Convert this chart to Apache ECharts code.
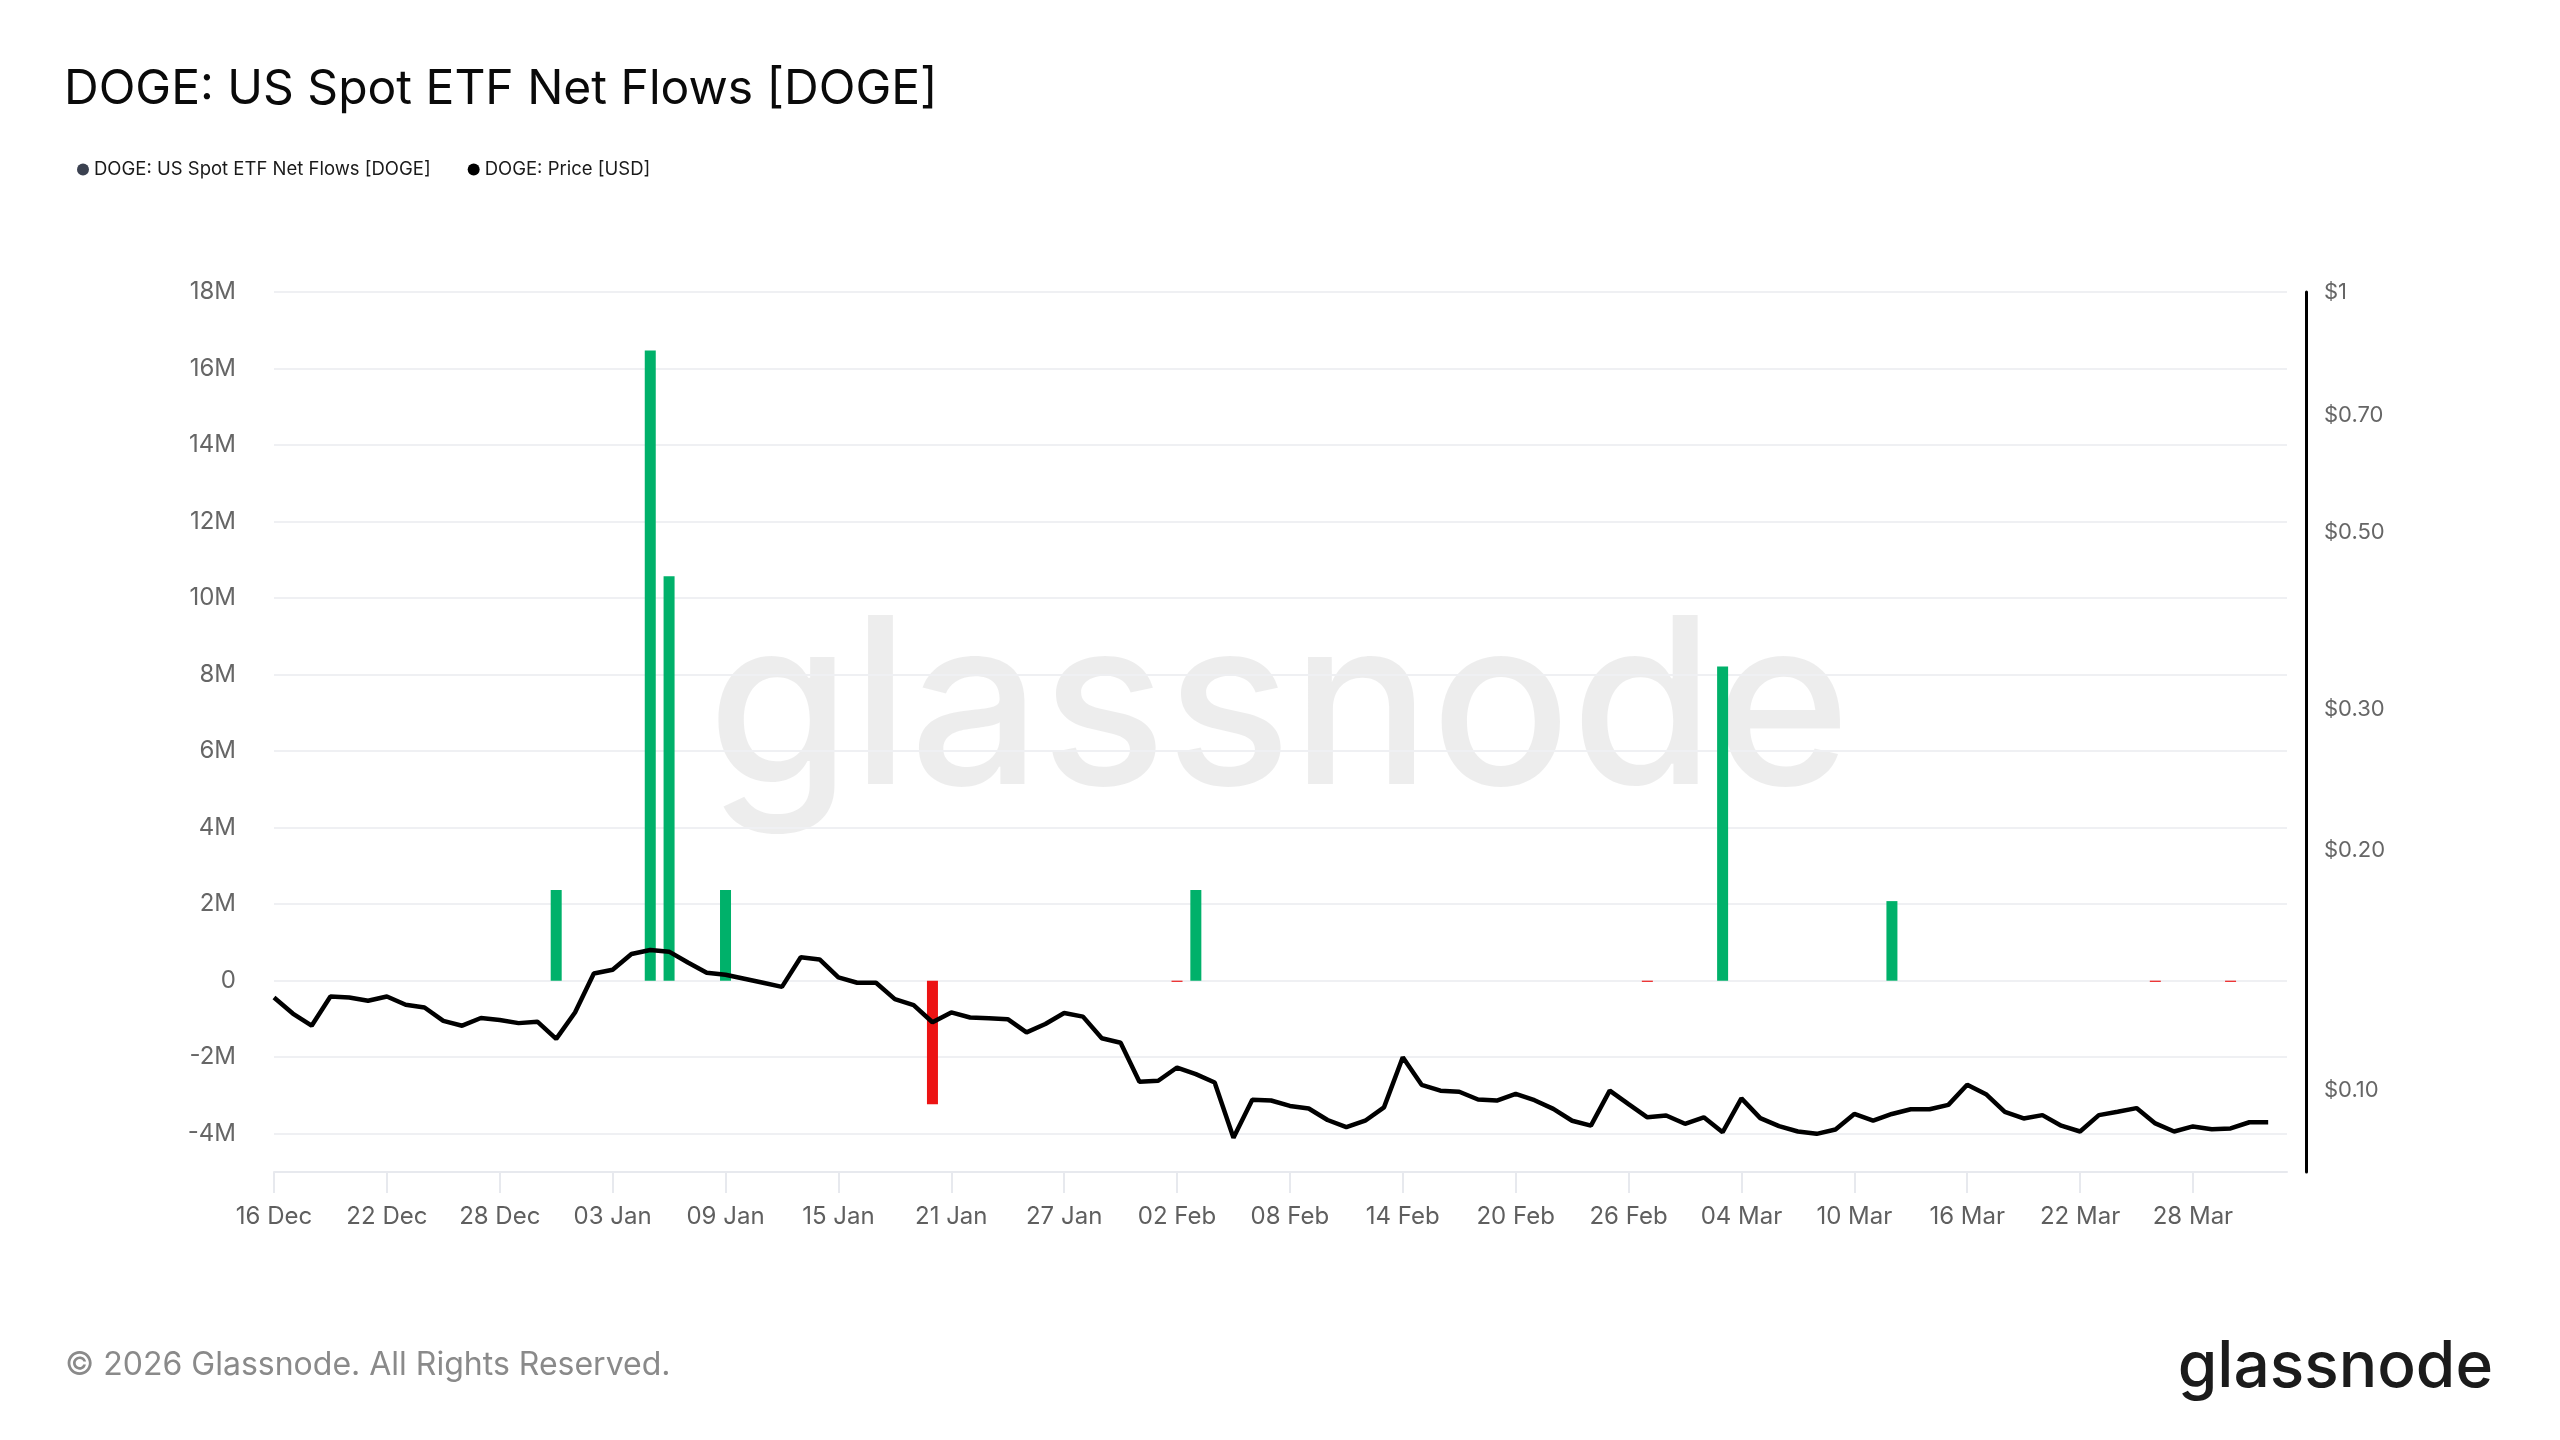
<!DOCTYPE html>
<html>
<head>
<meta charset="utf-8">
<title>DOGE: US Spot ETF Net Flows [DOGE]</title>
<script src="https://cdn.jsdelivr.net/npm/echarts@6.0.0/dist/echarts.min.js"></script>
<style>
  html, body { margin: 0; padding: 0; background: #ffffff; }
  #chart { width: 2560px; height: 1440px; }
</style>
</head>
<body>
<div id="chart"></div>
<script>
// first day of the series, one price point per day after it
const startDate = '2025-12-16';

// DOGE price [USD], daily from 16 Dec to 01 Apr
const prices = [
  0.1308, 0.1249, 0.1206, 0.1312, 0.1308, 0.1296, 0.1312, 0.1281, 0.1271, 0.1223,
  0.1206, 0.1233, 0.1226, 0.1215, 0.1220, 0.1161, 0.1253, 0.1402, 0.1417, 0.1483,
  0.1500, 0.1493, 0.1447, 0.1405, 0.1397, 0.1381, 0.1365, 0.1349, 0.1469, 0.1460,
  0.1386, 0.1365, 0.1365, 0.1302, 0.1280, 0.1218, 0.1253, 0.1235, 0.1232, 0.1229,
  0.1183, 0.1212, 0.1251, 0.1238, 0.1163, 0.1148, 0.1026, 0.1029, 0.1069, 0.1049,
  0.1024, 0.0873, 0.0974, 0.0972, 0.0957, 0.0950, 0.0919, 0.0900, 0.0917, 0.0953,
  0.1101, 0.1017, 0.1000, 0.0997, 0.0975, 0.0972, 0.0991, 0.0973, 0.0949, 0.0917,
  0.0904, 0.1000, 0.0962, 0.0926, 0.0931, 0.0909, 0.0926, 0.0887, 0.0978, 0.0924,
  0.0903, 0.0889, 0.0883, 0.0894, 0.0935, 0.0917, 0.0935, 0.0948, 0.0948, 0.0960,
  0.1017, 0.0990, 0.0941, 0.0923, 0.0932, 0.0904, 0.0889, 0.0932, 0.0941, 0.0951,
  0.0910, 0.0889, 0.0902, 0.0895, 0.0897, 0.0913, 0.0913
];

// ETF net flow days and values [DOGE]
const flowDates = [
  '2025-12-31', '2026-01-05', '2026-01-06', '2026-01-09', '2026-01-20', '2026-02-02',
  '2026-02-03', '2026-02-27', '2026-03-03', '2026-03-12', '2026-03-26', '2026-03-30'
];
const flowValues = [
  2370000, 16470000, 10570000, 2370000, -3230000, -30000,
  2370000, -30000, 8210000, 2080000, -30000, -30000
];

// x axis ticks, every 6 days from the start
const xTickLabels = [
  '16 Dec', '22 Dec', '28 Dec', '03 Jan', '09 Jan', '15 Jan', '21 Jan', '27 Jan', '02 Feb',
  '08 Feb', '14 Feb', '20 Feb', '26 Feb', '04 Mar', '10 Mar', '16 Mar', '22 Mar', '28 Mar'
];
const priceTicks = [1, 0.7, 0.5, 0.3, 0.2, 0.1];

const DAY = 86400000;
const t0 = Date.parse(startDate + 'T00:00:00Z');
const dayIndex = d => Math.round((Date.parse(d + 'T00:00:00Z') - t0) / DAY);

const priceData = prices.map((p, i) => [i, Math.log10(p)]);
const flowData = flowDates.map((d, i) => [dayIndex(d), flowValues[i]]);
const xTickDays = xTickLabels.map((_, i) => i * 6);

const GREEN = '#00b16a';
const RED = '#ec1313';
const FONT = 'Inter, "Noto Sans", sans-serif';

const chart = echarts.init(document.getElementById('chart'), null, { renderer: 'canvas' });

chart.setOption({
  backgroundColor: '#ffffff',
  animation: false,
  title: {
    text: 'DOGE: US Spot ETF Net Flows [DOGE]',
    left: 64,
    top: 66,
    padding: 0,
    textStyle: { fontFamily: FONT, fontSize: 48, fontWeight: 400, color: '#0a0a0a' }
  },
  legend: {
    left: 77,
    top: 160,
    padding: 0,
    itemWidth: 12,
    itemHeight: 12,
    itemGap: 37,
    icon: 'circle',
    textStyle: { fontFamily: FONT, fontSize: 18.5, color: '#1a1a1a' },
    data: [
      { name: 'DOGE: US Spot ETF Net Flows [DOGE]', itemStyle: { color: '#3b4150' } },
      { name: 'DOGE: Price [USD]', itemStyle: { color: '#000000' } }
    ]
  },
  graphic: [
    {
      type: 'text', x: 1279, y: 714, z: -10, silent: true,
      style: {
        text: 'glassnode', fontFamily: FONT, fontSize: 232, fontWeight: 500,
        fill: 'rgba(0,0,0,0.07)', align: 'center', verticalAlign: 'middle'
      }
    },
    {
      type: 'text', x: 65, y: 1365,
      style: {
        text: '\u00a9 2026 Glassnode. All Rights Reserved.', fontFamily: FONT, fontSize: 32,
        fill: '#8a8a8a', align: 'left', verticalAlign: 'middle'
      }
    },
    {
      type: 'text', x: 2493, y: 1368,
      style: {
        text: 'glassnode', fontFamily: FONT, fontSize: 64, fontWeight: 500,
        fill: '#1b1b1b', align: 'right', verticalAlign: 'middle'
      }
    }
  ],
  grid: { left: 274, right: 273, top: 292, bottom: 268, containLabel: false },
  xAxis: {
    type: 'value',
    min: 0,
    max: 107,
    axisLine: { show: true, onZero: false, lineStyle: { color: '#e7e9ee', width: 2 } },
    axisTick: { show: true, length: 21, customValues: xTickDays, lineStyle: { color: '#e7e9ee', width: 2 } },
    axisLabel: {
      customValues: xTickDays,
      margin: 33,
      fontFamily: FONT, fontSize: 24, color: '#5f5f5f',
      formatter: v => xTickLabels[Math.round(v / 6)] || ''
    },
    splitLine: { show: false }
  },
  yAxis: [
    {
      type: 'value',
      min: -5000000,
      max: 18000000,
      splitNumber: 11,
      axisLine: { show: false },
      axisTick: { show: false },
      axisLabel: {
        showMinLabel: false,
        margin: 38,
        fontFamily: FONT, fontSize: 24, color: '#666666',
        formatter: v => (v === 0 ? '0' : (v / 1e6) + 'M')
      },
      splitLine: { show: true, lineStyle: { color: '#eff0f3', width: 2 } }
    },
    {
      type: 'value',
      position: 'right',
      offset: 19,
      min: Math.log10(0.0791),
      max: 0,
      axisLine: { show: true, onZero: false, lineStyle: { color: '#000000', width: 3 } },
      axisTick: { show: false },
      axisLabel: {
        customValues: priceTicks.map(p => Math.log10(p)),
        margin: 18,
        fontFamily: FONT, fontSize: 22, color: '#666666',
        formatter: v => {
          const p = Math.pow(10, v);
          return p > 0.99 ? '$1' : '$' + p.toFixed(2);
        }
      },
      splitLine: { show: false }
    }
  ],
  series: [
    {
      name: 'DOGE: US Spot ETF Net Flows [DOGE]',
      type: 'bar',
      yAxisIndex: 0,
      barWidth: 11,
      data: flowData,
      itemStyle: { color: p => (p.value[1] >= 0 ? GREEN : RED) }
    },
    {
      name: 'DOGE: Price [USD]',
      type: 'line',
      yAxisIndex: 1,
      showSymbol: false,
      data: priceData,
      lineStyle: { color: '#000000', width: 4.5 },
      itemStyle: { color: '#000000' }
    }
  ]
});
</script>
</body>
</html>
